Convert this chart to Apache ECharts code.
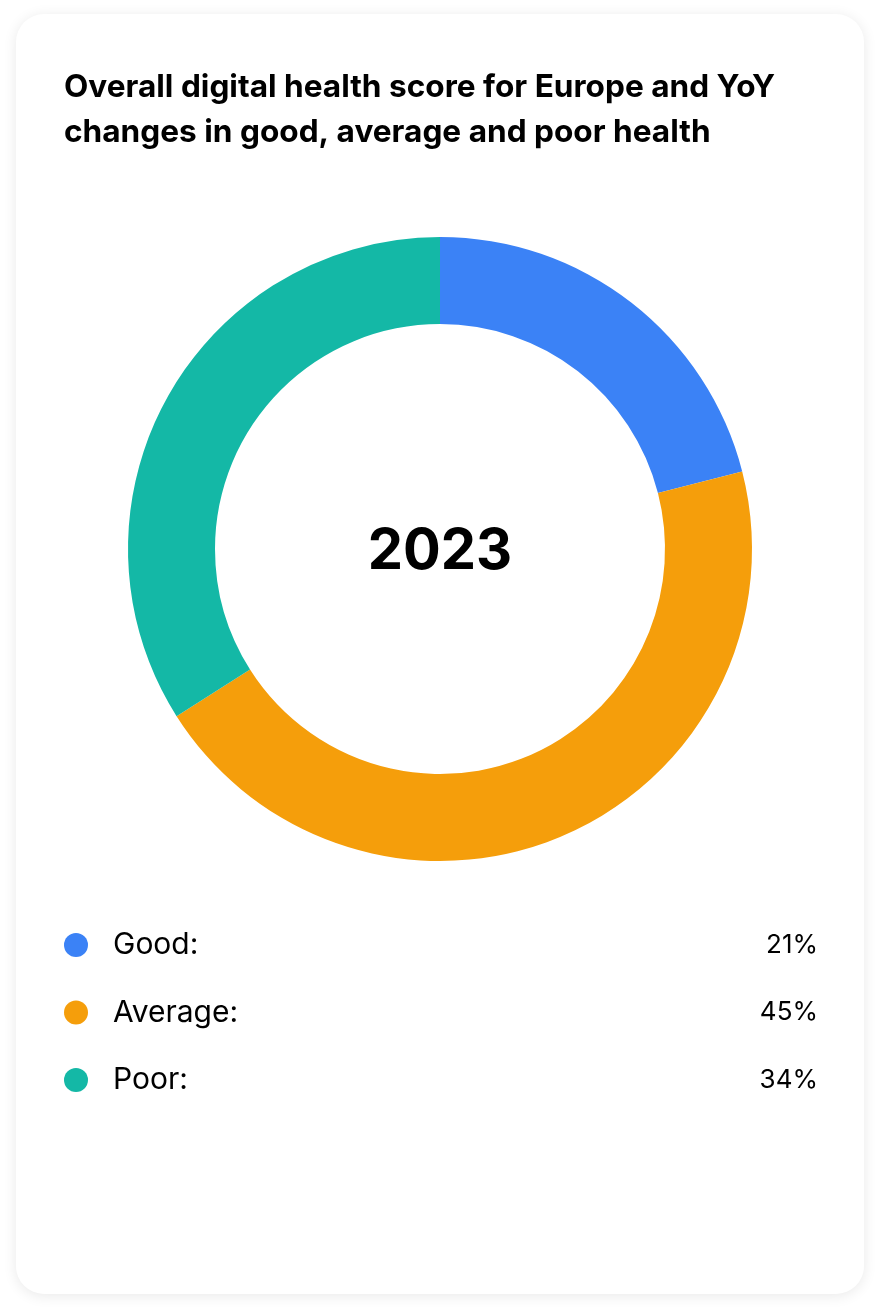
<!DOCTYPE html>
<html>
<head>
<meta charset="utf-8">
<script src="https://cdn.jsdelivr.net/npm/echarts@6/dist/echarts.min.js"></script>
<style>
  html, body { margin: 0; padding: 0; background: #ffffff; width: 880px; height: 1312px; overflow: hidden; }
  #card { position: absolute; left: 16px; top: 14px; width: 848px; height: 1280px; border-radius: 28px;
          background: #fff; box-shadow: 0 2px 14px rgba(0,0,0,0.09); }
  #chart { position: absolute; left: 0; top: 0; width: 880px; height: 1312px; }
</style>
</head>
<body>
<div id="card"></div>
<div id="chart"></div>
<script>
const titleText = 'Overall digital health score for Europe and YoY\nchanges in good, average and poor health';
const centerLabel = '2023';
const categories = ['Good', 'Average', 'Poor'];
const shares = [21, 45, 34];
const colors = ['#3B82F6', '#F59E0B', '#14B8A6'];

const chart = echarts.init(document.getElementById('chart'), null, { renderer: 'canvas' });
const font = 'Inter, "Noto Sans", sans-serif';

chart.setOption({
  animation: false,
  backgroundColor: 'transparent',
  title: {
    text: titleText,
    left: 64,
    top: 65,
    padding: 0,
    textStyle: { fontFamily: font, fontSize: 31.6, fontWeight: 'bold', color: '#000', lineHeight: 45 }
  },
  legend: {
    orient: 'vertical',
    left: 64,
    top: 930,
    itemWidth: 24,
    itemHeight: 24,
    itemGap: 37.5,
    icon: 'circle',
    padding: 0,
    data: categories,
    formatter: function (name) {
      const i = categories.indexOf(name);
      return '{s|}{n|' + name + ':}{v|' + shares[i] + '%}';
    },
    textStyle: {
      fontFamily: font,
      color: '#000',
      lineHeight: 30,
      rich: {
        s: { width: 20, lineHeight: 30 },
        n: { width: 500, fontSize: 30, fontFamily: font, color: '#000', lineHeight: 30 },
        v: { width: 205, align: 'right', fontSize: 26, fontFamily: font, color: '#000', lineHeight: 30 }
      }
    }
  },
  graphic: [{
    type: 'text',
    left: 'center',
    top: 524,
    style: { text: centerLabel, font: 'bold 56px ' + font, fill: '#000' }
  }],
  series: [{
    type: 'pie',
    center: [440, 549],
    radius: [225, 312],
    startAngle: 90,
    clockwise: true,
    label: { show: false },
    labelLine: { show: false },
    emphasis: { disabled: true },
    itemStyle: { borderWidth: 0 },
    data: categories.map((c, i) => ({ name: c, value: shares[i], itemStyle: { color: colors[i] } }))
  }]
});
</script>
</body>
</html>
